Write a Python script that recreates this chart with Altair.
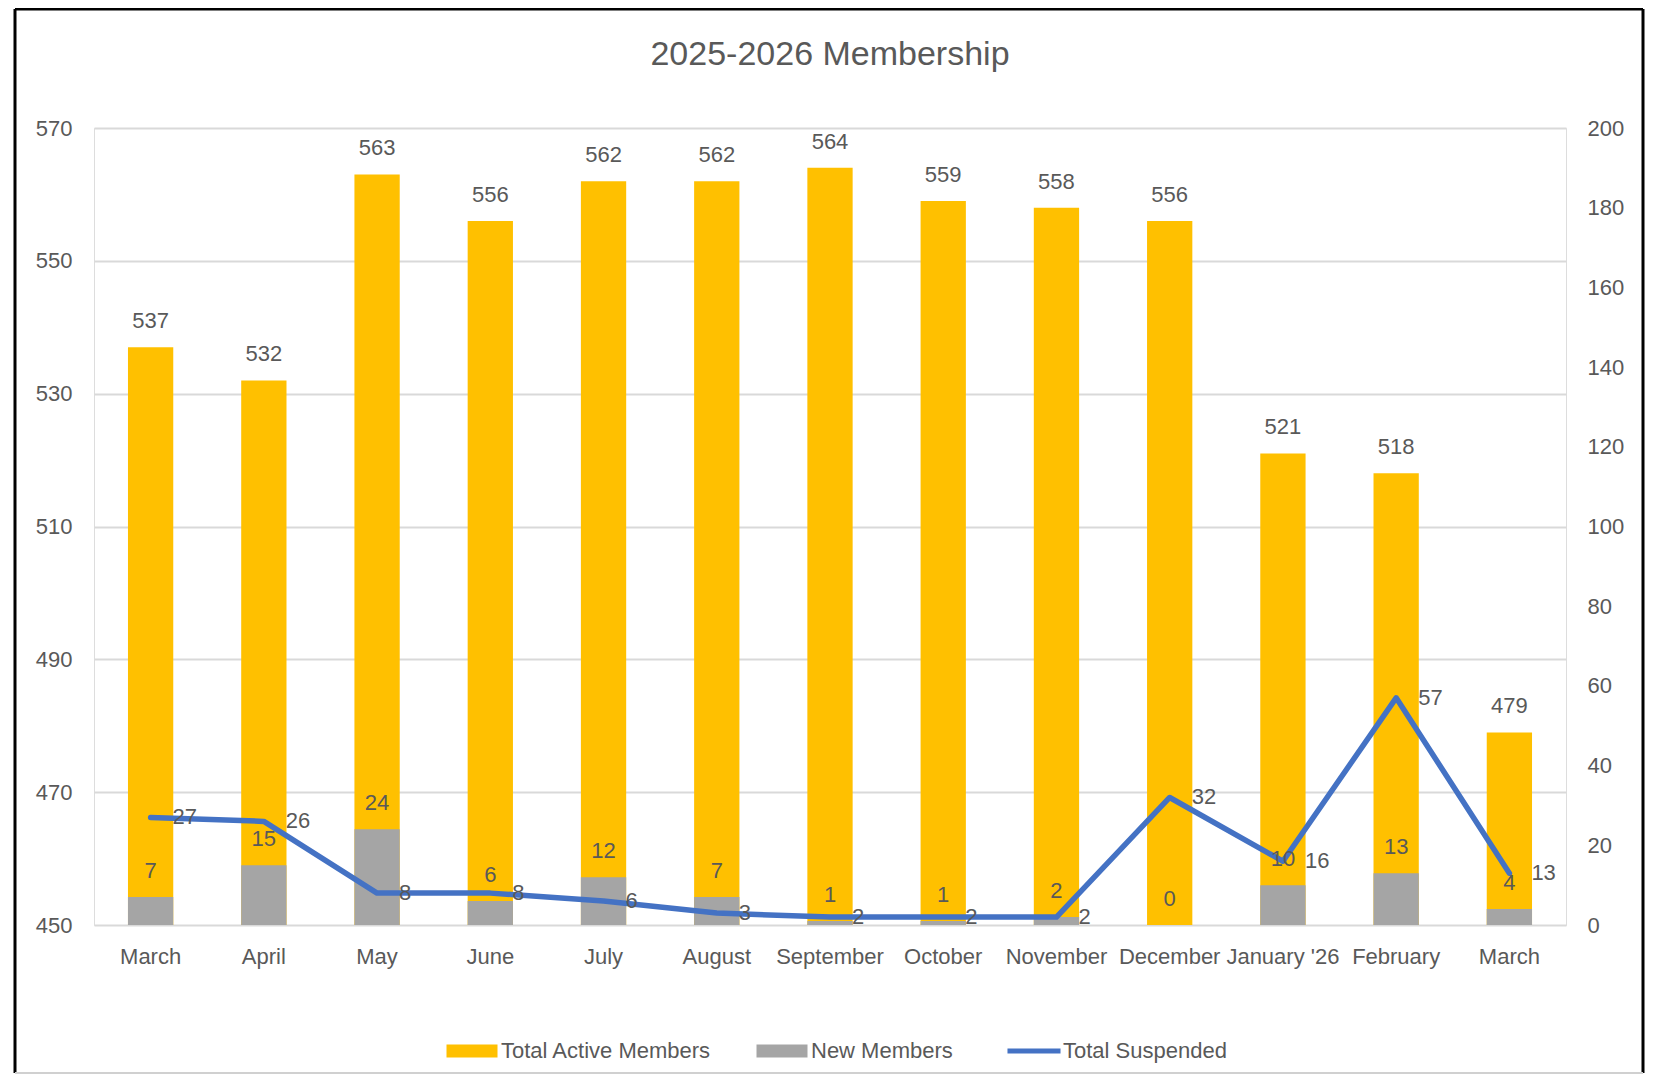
import json
import altair as alt
import pandas as pd

# ---------------- data ----------------
months = ["March", "April", "May", "June", "July", "August", "September",
          "October", "November", "December", "January '26", "February", "March"]
total_active = [537, 532, 563, 556, 562, 562, 564, 559, 558, 556, 521, 518, 479]
new_members = [7, 15, 24, 6, 12, 7, 1, 1, 2, 0, 10, 13, 4]
total_suspended = [27, 26, 8, 8, 6, 3, 2, 2, 2, 32, 16, 57, 13]

left_ticks = [450, 470, 490, 510, 530, 550, 570]
right_ticks = [0, 20, 40, 60, 80, 100, 120, 140, 160, 180, 200]

series_names = ["Total Active Members", "New Members", "Total Suspended"]
series_colors = ["#FFC000", "#A5A5A5", "#4472C4"]
title_text = "2025-2026 Membership"

# ---------------- styling ----------------
FONT = "Liberation Sans"
TXT = "#595959"
GRID = "#D9D9D9"
W, H = 1472, 797
FS = 22

rows = []
for i, m in enumerate(months):
    rows.append({"idx": i, "month": m, "series": series_names[0], "value": total_active[i]})
    rows.append({"idx": i, "month": m, "series": series_names[1], "value": new_members[i]})
    rows.append({"idx": i, "month": m, "series": series_names[2], "value": total_suspended[i]})
df = pd.DataFrame(rows)

label_expr = "[" + ",".join(json.dumps(m) for m in months) + "][datum.value]"

x_enc = alt.X(
    "idx:O",
    scale=alt.Scale(paddingInner=0.6, paddingOuter=0.3),
    axis=alt.Axis(labelExpr=label_expr, title=None, domain=False, ticks=False,
                  labelAngle=0, labelPadding=21, labelFontSize=FS, labelColor=TXT,
                  labelFont=FONT, grid=False),
)

RECT_PATH = "M-1,-0.255H1V0.255H-1Z"
LINE_PATH = "M-1.04,0H1.04"
is_line = "datum.value === 'Total Suspended'"

legend = alt.Legend(
    title=None, orient="none", legendX=367, legendY=912, direction="horizontal",
    symbolSize=2601, labelOffset=18, columnPadding=44, labelLimit=0,
    labelFontSize=FS, labelFont=FONT, labelColor=TXT,
    symbolType=alt.ExprRef(expr=f"{is_line} ? '{LINE_PATH}' : '{RECT_PATH}'"),
    symbolStrokeWidth=alt.ExprRef(expr=f"{is_line} ? 5 : 0"),
    symbolOpacity=1,
)

color_enc = alt.Color("series:N",
                      scale=alt.Scale(domain=series_names, range=series_colors),
                      legend=legend)

base = alt.Chart(df)

left_axis = alt.Axis(values=left_ticks, orient="left", grid=True, gridColor=GRID,
                     gridWidth=2, domain=False, ticks=False, labelPadding=22,
                     labelFontSize=FS, labelColor=TXT, labelFont=FONT, title=None)
right_axis = alt.Axis(values=right_ticks, orient="right", grid=False, domain=False,
                      ticks=False, labelPadding=21, labelFontSize=FS, labelColor=TXT,
                      labelFont=FONT, title=None)

y_left = alt.Y("value:Q", scale=alt.Scale(domain=[450, 570], zero=False, nice=False),
               axis=left_axis)
y_right = alt.Y("value:Q", scale=alt.Scale(domain=[0, 200], nice=False), axis=right_axis)

active = base.transform_filter(alt.datum.series == series_names[0])
newm = base.transform_filter(alt.datum.series == series_names[1])
susp = base.transform_filter(alt.datum.series == series_names[2])

active_bars = active.mark_bar().encode(x=x_enc, y=y_left, y2=alt.datum(450), color=color_enc)
active_text = active.mark_text(dy=-26, baseline="middle", fontSize=FS, font=FONT,
                               color=TXT).encode(x=x_enc, y=y_left, text="value:Q")

# frame around the chart (decorative)
one = alt.Chart(pd.DataFrame({"k": [0]}))
FL, FR, FT, FB = -79, 1549, -119, 945
frame_l = one.mark_rule(color="black", strokeWidth=3).encode(
    x=alt.value(FL), y=alt.value(FT), y2=alt.value(FB))
frame_r = one.mark_rule(color="black", strokeWidth=3).encode(
    x=alt.value(FR), y=alt.value(FT), y2=alt.value(FB))
frame_t = one.mark_rule(color="black", strokeWidth=3).encode(
    x=alt.value(FL), x2=alt.value(FR), y=alt.value(FT))
frame_b = one.mark_rule(color="#D0D0D0", strokeWidth=2).encode(
    x=alt.value(FL), x2=alt.value(FR), y=alt.value(FB))

left_layer = alt.layer(active_bars, active_text, frame_l, frame_r, frame_t, frame_b)

new_bars = newm.mark_bar().encode(x=x_enc, y=y_right, y2=alt.datum(0), color=color_enc)
susp_line = susp.mark_line(strokeWidth=5.5, strokeJoin="round", strokeCap="round").encode(
    x=x_enc, y=y_right, color=color_enc)
new_text = newm.mark_text(dy=-26, baseline="middle", fontSize=FS, font=FONT,
                          color=TXT).encode(x=x_enc, y=y_right, text="value:Q")
susp_text = susp.mark_text(dx=22, align="left", baseline="middle", fontSize=FS,
                           font=FONT, color=TXT).encode(x=x_enc, y=y_right, text="value:Q")

right_layer = alt.layer(new_bars, susp_line, new_text, susp_text)

chart = alt.layer(left_layer, right_layer).resolve_scale(y="independent").properties(
    width=W, height=H,
    title=alt.TitleParams(title_text, fontSize=34, font=FONT, color=TXT,
                          fontWeight="normal", anchor="middle", frame="group", offset=-64),
    autosize=alt.AutoSizeParams(type="none"),
    padding={"left": 86, "top": 120, "right": 80, "bottom": 150},
).configure_view(stroke=None).configure(background="white")

chart.save("out.html", embed_options={"renderer": "svg", "actions": False})
